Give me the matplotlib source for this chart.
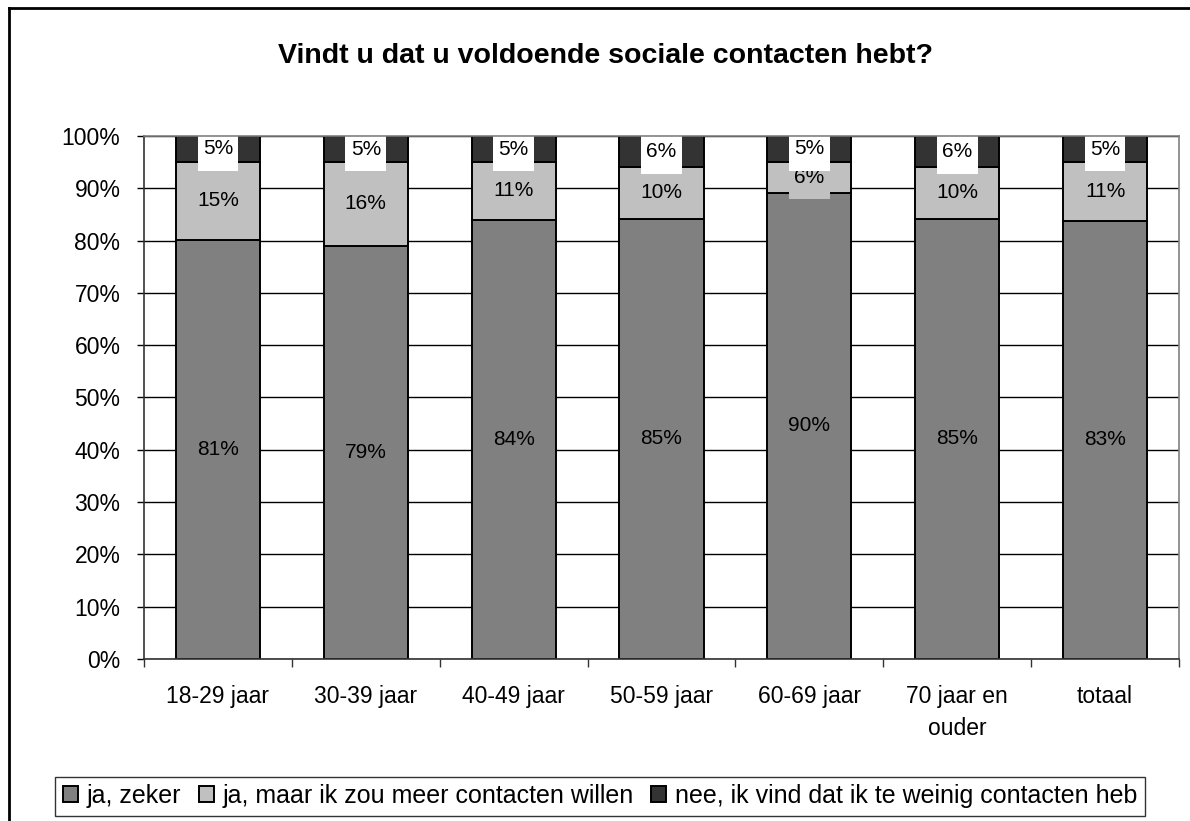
import matplotlib.pyplot as plt
import numpy as np
from matplotlib.lines import Line2D
from matplotlib.path import Path
from matplotlib.ticker import FuncFormatter, FixedLocator

# Vindt u dat u voldoende sociale contacten hebt?
categories = ["18-29 jaar", "30-39 jaar", "40-49 jaar", "50-59 jaar",
              "60-69 jaar", "70 jaar en\nouder", "totaal"]
ja_zeker = [81, 79, 84, 85, 90, 85, 83]
ja_maar = [15, 16, 11, 10, 6, 10, 11]
nee = [5, 5, 5, 6, 5, 6, 5]
series_names = ["ja, zeker", "ja, maar ik zou meer contacten willen",
                "nee, ik vind dat ik te weinig contacten heb"]
colors = ["#808080", "#C0C0C0", "#333333"]
label_bg = [None, "#C0C0C0", "white"]

plt.rcParams["font.family"] = ["Liberation Sans", "DejaVu Sans"]


def label_box(x0, y0, width, height, mutation_size):
    # Excel-achtig labelvak: smal opzij, hoger boven/onder
    px = 0.25 * mutation_size
    py = 0.6 * mutation_size
    x0, y0 = x0 - px, y0 - py
    x1, y1 = x0 + width + 2 * px, y0 + height + 2 * py
    return Path([(x0, y0), (x1, y0), (x1, y1), (x0, y1), (x0, y0)], closed=True)


W, H = 1190, 821
fig = plt.figure(figsize=(W / 100, H / 100), dpi=100)
ax = fig.add_axes([144 / W, 1 - 659 / H, (1179 - 144) / W, (659 - 136) / H])

# 100% gestapeld: waarden normaliseren per groep
data = np.array([ja_zeker, ja_maar, nee], dtype=float)
shares = data / data.sum(axis=0) * 100
x = np.arange(len(categories))
bottom = np.zeros(len(categories))
for i in range(3):
    ax.bar(x, shares[i], 0.57, bottom=bottom, color=colors[i], edgecolor="black",
           linewidth=1.4, label=series_names[i], zorder=2)
    for xi, b, h, v in zip(x, bottom, shares[i], data[i]):
        box = None
        if label_bg[i]:
            box = dict(boxstyle=label_box, fc=label_bg[i], ec="none")
        ax.text(xi, b + h / 2, f"{v:.0f}%", ha="center", va="center",
                fontsize=15, zorder=4, bbox=box)
    bottom += shares[i]

ax.set_xlim(-0.5, len(categories) - 0.5)
ax.set_ylim(0, 100)
ax.set_yticks(np.arange(0, 101, 10))
ax.yaxis.set_major_formatter(FuncFormatter(lambda v, p: f"{v:.0f}%"))
ax.grid(axis="y", color="black", linewidth=1, zorder=0)
ax.set_axisbelow(True)

ax.set_xticks(x)
ax.set_xticklabels(categories, fontsize=16.5, linespacing=1.5)
ax.xaxis.set_minor_locator(FixedLocator(np.arange(-0.5, len(categories), 1)))
ax.tick_params(axis="x", which="major", length=0, pad=19)
ax.tick_params(axis="x", which="minor", length=6, width=1, color="#333333")
ax.tick_params(axis="y", length=5, width=1, pad=12, labelsize=16.5)

for s in ["top", "right"]:
    ax.spines[s].set_color("#808080")
for s in ["left", "bottom"]:
    ax.spines[s].set_color("#333333")
for s in ax.spines.values():
    s.set_linewidth(1.2)
    s.set_zorder(5)

fig.text(605 / W, 1 - 56 / H, "Vindt u dat u voldoende sociale contacten hebt?",
         ha="center", va="center", fontsize=20.5, fontweight="bold")

leg = fig.legend(loc="center", bbox_to_anchor=(600 / W, 1 - 796 / H), ncol=3,
                 fontsize=18, frameon=True, fancybox=False, edgecolor="black",
                 handlelength=0.6, handleheight=0.6, handletextpad=0.35,
                 columnspacing=0.7, borderpad=0.3, borderaxespad=0)
leg.get_frame().set_linewidth(1)

# buitenrand van de grafiek
fig.add_artist(Line2D([9 / W, 9 / W], [0, 1 - 8 / H], transform=fig.transFigure,
                      color="black", linewidth=2))
fig.add_artist(Line2D([9 / W, 1], [1 - 8 / H, 1 - 8 / H], transform=fig.transFigure,
                      color="black", linewidth=2))

fig.savefig("out.png", dpi=100)
